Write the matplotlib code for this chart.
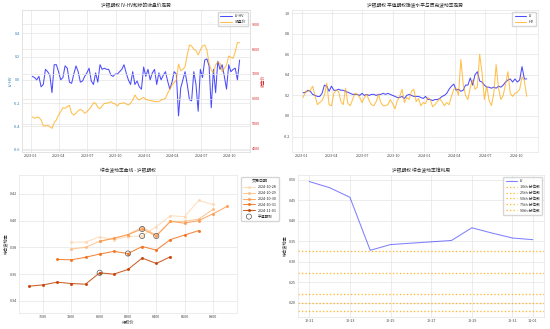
import matplotlib
matplotlib.use("Agg")
import matplotlib.pyplot as plt
import matplotlib.dates as mdates
import matplotlib.ticker as mticker
import numpy as np
import pandas as pd
import seaborn as sns

sns.set_theme(style="whitegrid")
plt.rcParams["font.family"] = ["Noto Sans CJK SC", "DejaVu Sans"]
plt.rcParams["axes.unicode_minus"] = False

# ---------------- data ----------------
week_dates = pd.date_range("2023-01-06", periods=96, freq="7D")

iv_hv_spread = [
    0.03, 0.02, 0.00, 0.03, -0.06, -0.04, 0.09, 0.07, 0.04, -0.11,
    0.13, 0.13, 0.07, 0.00, 0.02, 0.12, 0.10, -0.02, -0.03, 0.05,
    0.12, 0.07, -0.02, -0.01, 0.03, 0.06, 0.10, -0.01, -0.04, 0.06,
    -0.02, 0.13, 0.09, 0.10, 0.09, 0.09, 0.04, 0.03, 0.05, 0.05,
    0.07, 0.09, 0.13, 0.06, 0.00, -0.04, 0.07, -0.04, -0.01, -0.06,
    -0.08, 0.11, 0.03, 0.09, 0.00, 0.06, 0.09, -0.04, 0.06, 0.00,
    0.04, 0.07, -0.01, -0.08, -0.02, 0.07, 0.05, -0.31, -0.07, 0.00,
    0.07, -0.04, -0.17, -0.18, 0.07, -0.04, -0.27, 0.09, 0.02, 0.17,
    0.18, 0.12, -0.24, 0.09, -0.11, 0.16, 0.09, 0.13, 0.03, -0.08,
    0.13, 0.07, 0.09, 0.10, 0.00, 0.17,
]

close_price = [
    5293, 5227, 5267, 5267, 5160, 4933, 4920, 4947, 4893, 4827,
    5053, 5160, 5360, 5493, 5653, 5627, 5693, 5747, 5427, 5360,
    5427, 5533, 5587, 5533, 5427, 5493, 5587, 5693, 5853, 5827,
    5667, 5613, 5720, 5827, 5827, 5853, 5893, 5827, 5800, 5720,
    5827, 5827, 5853, 5800, 5760, 5827, 5960, 6160, 6027, 5960,
    6027, 6067, 5987, 5960, 5933, 5933, 5893, 5893, 5893, 5960,
    5987, 6027, 6227, 6387, 6560, 6653, 6760, 7400, 7133, 7187,
    7293, 7760, 8160, 8120, 7987, 7933, 7760, 7960, 8120, 8160,
    7960, 7427, 7160, 7053, 7360, 7493, 7427, 7093, 7227, 7360,
    7720, 7667, 7627, 7893, 8253, 8253,
]

atm_iv = [
    0.226, 0.23, 0.25, 0.24, 0.21, 0.20, 0.19, 0.19, 0.22, 0.30,
    0.29, 0.24, 0.29, 0.25, 0.25, 0.26, 0.25, 0.25, 0.24, 0.23,
    0.22, 0.21, 0.21, 0.21, 0.20, 0.22, 0.20, 0.21, 0.20, 0.21,
    0.21, 0.20, 0.21, 0.21, 0.22, 0.21, 0.22, 0.21, 0.20, 0.19,
    0.18, 0.18, 0.19, 0.17, 0.20, 0.21, 0.20, 0.19, 0.19, 0.19,
    0.18, 0.17, 0.19, 0.16, 0.16, 0.15, 0.16, 0.16, 0.17, 0.19,
    0.20, 0.22, 0.26, 0.29, 0.31, 0.25, 0.26, 0.24, 0.25, 0.30,
    0.30, 0.37, 0.30, 0.40, 0.43, 0.34, 0.33, 0.30, 0.28, 0.28,
    0.27, 0.28, 0.27, 0.29, 0.28, 0.30, 0.33, 0.35, 0.36, 0.33,
    0.36, 0.33, 0.35, 0.48, 0.36, 0.36,
]

hist_vol = [
    0.18, 0.24, 0.24, 0.25, 0.29, 0.20, 0.11, 0.13, 0.15, 0.20,
    0.32, 0.11, 0.10, 0.22, 0.25, 0.24, 0.14, 0.11, 0.27, 0.12,
    0.10, 0.16, 0.22, 0.21, 0.18, 0.13, 0.18, 0.21, 0.15, 0.11,
    0.10, 0.14, 0.21, 0.13, 0.10, 0.10, 0.11, 0.16, 0.12, 0.07,
    0.15, 0.19, 0.26, 0.13, 0.18, 0.16, 0.24, 0.26, 0.14, 0.17,
    0.10, 0.13, 0.12, 0.18, 0.16, 0.09, 0.11, 0.14, 0.17, 0.14,
    0.10, 0.13, 0.11, 0.19, 0.26, 0.27, 0.20, 0.55, 0.31, 0.20,
    0.16, 0.28, 0.35, 0.26, 0.28, 0.60, 0.42, 0.16, 0.29, 0.15,
    0.10, 0.22, 0.50, 0.27, 0.16, 0.20, 0.31, 0.43, 0.22, 0.19,
    0.22, 0.23, 0.26, 0.38, 0.34, 0.19,
]

# volatility smile by trade date
strikes = [7500, 7600, 7700, 7800, 7900, 8000, 8100, 8200, 8300, 8400,
           8500, 8600, 8700, 8800, 8900]
smile_dates = ["2024-10-28", "2024-10-29", "2024-10-30", "2024-10-31", "2024-11-01"]
smile_1028 = [None, None, None, 0.3838, 0.3840, 0.3878, 0.3858, 0.3880, 0.3885,
              0.3955, 0.4036, 0.4029, 0.4150, 0.4120, None]
smile_1029 = [None, None, None, 0.3788, 0.3800, 0.3845, 0.3868, 0.3895, 0.3950,
              0.3890, 0.3994, 0.3994, 0.4011, 0.4083, None]
smile_1030 = [None, None, None, None, None, 0.3845, 0.3868, 0.3895, 0.3937,
              0.3885, 0.3994, 0.3980, 0.4000, 0.4050, 0.4106]
smile_1031 = [None, None, 0.3710, 0.3707, 0.3726, 0.3750, 0.3770, 0.3754, 0.3806,
              0.3780, 0.3858, 0.3892, 0.3925, None, None]
smile_1101 = [0.3510, 0.3520, 0.3540, 0.3530, 0.3525, 0.3610, 0.3600, 0.3635, 0.3720,
              0.3680, 0.3730, None, None, None, None]
atm_strikes = [8300, 8400, 8300, 8200, 8000]
atm_vols = [0.3885, 0.3885, 0.3937, 0.3754, 0.3610]

# volatility cone
cone_dates = pd.to_datetime(["2024-10-21", "2024-10-22", "2024-10-23", "2024-10-24",
                             "2024-10-25", "2024-10-28", "2024-10-29", "2024-10-30",
                             "2024-10-31", "2024-11-01"])
cone_iv = [0.496, 0.481, 0.4575, 0.328, 0.342, 0.352, 0.383, 0.370, 0.358, 0.354]
quantile_labels = ["10th 分位数", "25th 分位数", "50th 分位数", "75th 分位数", "90th 分位数"]
quantile_values = [0.180, 0.199, 0.222, 0.273, 0.326]

# ---------------- figure ----------------
fig = plt.figure(figsize=(5.5, 3.29), dpi=100)

TITLE = 3.4
TICK = 2.7
LAB = 3.0
LEG = 2.7
LW = 0.75


def style(ax):
    ax.tick_params(labelsize=TICK, pad=1.5, length=0, colors="#444444")
    for s in ax.spines.values():
        s.set_linewidth(0.4)
        s.set_color("#dddddd")
    ax.grid(True, linewidth=0.5, color="#e4e4e4")


# top-left: IV-HV spread and close price
ax1 = fig.add_axes([0.040, 0.538, 0.4145, 0.4316])
style(ax1)
l1, = ax1.plot(week_dates, iv_hv_spread, color="blue", alpha=0.7, lw=LW, label="IV-HV")
ax1.set_ylim(-0.62, 0.6)
ax1.set_yticks([-0.6, -0.4, -0.2, 0.0, 0.2, 0.4])
ax1.set_ylabel("IV-HV", color="tab:blue", fontsize=LAB, labelpad=1)
ax1.tick_params(axis="y", colors="tab:blue")
ax1b = ax1.twinx()
style(ax1b)
l2, = ax1b.plot(week_dates, close_price, color="orange", alpha=0.7, lw=LW, label="收盘价")
ax1b.set_ylim(3880, 9560)
ax1b.set_yticks([4000, 5000, 6000, 7000, 8000, 9000])
ax1b.set_ylabel("收盘价", color="tab:red", fontsize=LAB, labelpad=1)
ax1b.tick_params(axis="y", colors="tab:red")
ax1.set_title("沪银期权 IV-HV和标的收盘价走势", fontsize=TITLE, pad=2)
ax1.xaxis.set_major_locator(mdates.MonthLocator(bymonth=[1, 4, 7, 10]))
ax1.xaxis.set_major_formatter(mdates.DateFormatter("%Y-%m"))
ax1.legend([l1, l2], ["IV-HV", "收盘价"], loc="upper right", fontsize=LEG,
           frameon=True, handlelength=3, borderpad=0.6)

# top-right: ATM IV vs HV
ax2 = fig.add_axes([0.531, 0.538, 0.447, 0.4316])
style(ax2)
ax2.plot(week_dates, atm_iv, color="blue", alpha=0.7, lw=LW, label="IV")
ax2.plot(week_dates, hist_vol, color="orange", alpha=0.7, lw=LW, label="HV")
ax2.set_ylim(-0.35, 1.03)
ax2.set_yticks([-0.2, 0.0, 0.2, 0.4, 0.6, 0.8, 1.0])
ax2.set_title("沪银期权 平值期权隐波水平与历史波动率走势", fontsize=TITLE, pad=2)
ax2.xaxis.set_major_locator(mdates.MonthLocator(bymonth=[1, 4, 7, 10]))
ax2.xaxis.set_major_formatter(mdates.DateFormatter("%Y-%m"))
ax2.legend(loc="upper right", fontsize=LEG, frameon=True, handlelength=3, borderpad=0.6)

# bottom-left: volatility smiles
ax3 = fig.add_axes([0.0345, 0.0486, 0.3964, 0.4195])
style(ax3)
smiles = [smile_1028, smile_1029, smile_1030, smile_1031, smile_1101]
cmap = plt.get_cmap("Oranges")
shades = [0.2, 0.32, 0.45, 0.6, 0.8]
for d, vals, sh in zip(smile_dates, smiles, shades):
    v = np.array([np.nan if x is None else x for x in vals], dtype=float)
    ax3.plot(strikes, v, color=cmap(sh), lw=LW, marker="o", markersize=1.2,
             alpha=0.85, label=d)
ax3.scatter(atm_strikes, atm_vols, s=14, facecolors="none", edgecolors="#555555",
            linewidths=0.5, label="平值期权", zorder=5)
ax3.set_xlim(7430, 8970)
ax3.set_ylim(0.331, 0.434)
ax3.set_xticks([7600, 7800, 8000, 8200, 8400, 8600, 8800])
ax3.set_yticks([0.34, 0.36, 0.38, 0.40, 0.42])
ax3.set_title("综合波动率曲线 - 沪银期权", fontsize=TITLE, pad=2)
ax3.set_xlabel("行权价", fontsize=LAB, labelpad=1)
ax3.set_ylabel("综合波动率", fontsize=LAB, labelpad=1)
ax3.legend(title="交易日期", loc="upper left", bbox_to_anchor=(1.01, 1.0),
           fontsize=LEG, title_fontsize=LEG + 0.2, frameon=True,
           handlelength=3, borderpad=0.6)

# bottom-right: volatility cone
ax4 = fig.add_axes([0.542, 0.0365, 0.447, 0.4316])
style(ax4)
ax4.plot(cone_dates, cone_iv, color="blue", alpha=0.5, lw=LW, label="IV")
for lab, q in zip(quantile_labels, quantile_values):
    ax4.axhline(q, color="orange", ls=":", lw=LW + 0.2, alpha=0.8, label=lab)
ax4.set_ylim(0.165, 0.512)
ax4.set_yticks([0.20, 0.25, 0.30, 0.35, 0.40, 0.45, 0.50])
ax4.yaxis.set_major_formatter(mticker.FormatStrFormatter("%.2f"))
ax4.set_xticks(pd.to_datetime(["2024-10-21", "2024-10-23", "2024-10-25", "2024-10-27",
                               "2024-10-29", "2024-10-31", "2024-11-01"]))
ax4.xaxis.set_major_formatter(mdates.DateFormatter("%m-%d"))
ax4.set_title("沪银期权 综合波动率锥利用", fontsize=TITLE, pad=2)
ax4.set_ylabel("综合波动率", fontsize=LAB, labelpad=1)
ax4.legend(loc="upper right", fontsize=LEG, frameon=True, handlelength=3, borderpad=0.6)

fig.savefig("out.png", dpi=100)
